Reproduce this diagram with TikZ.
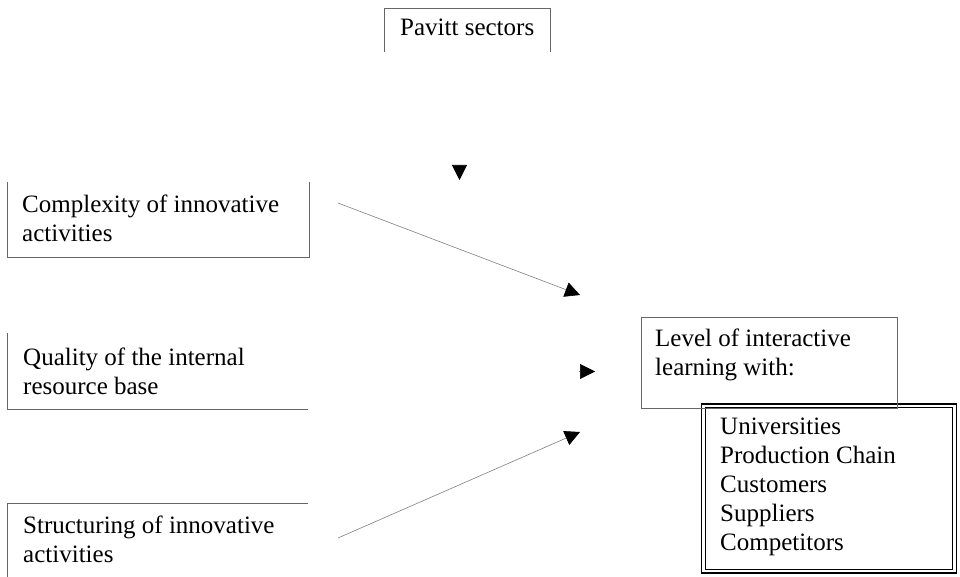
\documentclass[tikz,border=0pt]{standalone}
\usepackage{fontspec}
\setmainfont{Liberation Serif}
\usetikzlibrary{arrows.meta}
\tikzset{
  lbl/.style={anchor=base west, align=left, inner sep=0pt, font=\fontsize{25}{29}\selectfont},
  side/.style={draw=black!60, line width=0.9pt},
  link/.style={draw=black!50, line width=0.6pt, -{Triangle[length=15pt,width=15pt,color=black]}}
}
\begin{document}
\begin{tikzpicture}[x=1pt,y=-1pt]
\useasboundingbox (0,0) rectangle (960,577);
% box sides
\draw[side] (384,52) -- (384,8) -- (550,8) -- (550,52);
\draw[side] (7,182) -- (7,257) -- (309,257) -- (309,182);
\draw[side] (7,333) -- (7,409) -- (308,409);
\draw[side] (308,503) -- (7,503) -- (7,577);
\draw[line width=1.6pt] (701.5,404) rectangle (956.5,573);
\draw[line width=1pt] (705.5,407.5) rectangle (952.5,569.5);
\draw[side] (641,317) rectangle (897,408);
% texts (base = last line)
\node[lbl] (pavitt) at (400,36) {Pavitt sectors};
\node[lbl] (cplx) at (22,242) {Complexity of innovative\\activities};
\node[lbl] (quality) at (23,394) {Quality of the internal\\resource base};
\node[lbl] (struct) at (23,562) {Structuring of innovative\\activities};
\node[lbl] (level) at (655,375) {Level of interactive\\learning with:};
\node[lbl] (partners) at (720,550) {Universities\\Production Chain\\Customers\\Suppliers\\Competitors};
% arrows
\coordinate (pavitt-out) at (459.5,165);
\coordinate (pavitt-in) at (459.5,180);
\coordinate (cplx-out) at (338,203);
\coordinate (cplx-in) at (580,295);
\coordinate (quality-out) at (579,371.5);
\coordinate (quality-in) at (595,371.5);
\coordinate (struct-out) at (338,538);
\coordinate (struct-in) at (580,432);
\draw[link] (pavitt-out) -- (pavitt-in);
\draw[link] (cplx-out) -- (cplx-in);
\draw[link] (quality-out) -- (quality-in);
\draw[link] (struct-out) -- (struct-in);
\end{tikzpicture}
\end{document}
